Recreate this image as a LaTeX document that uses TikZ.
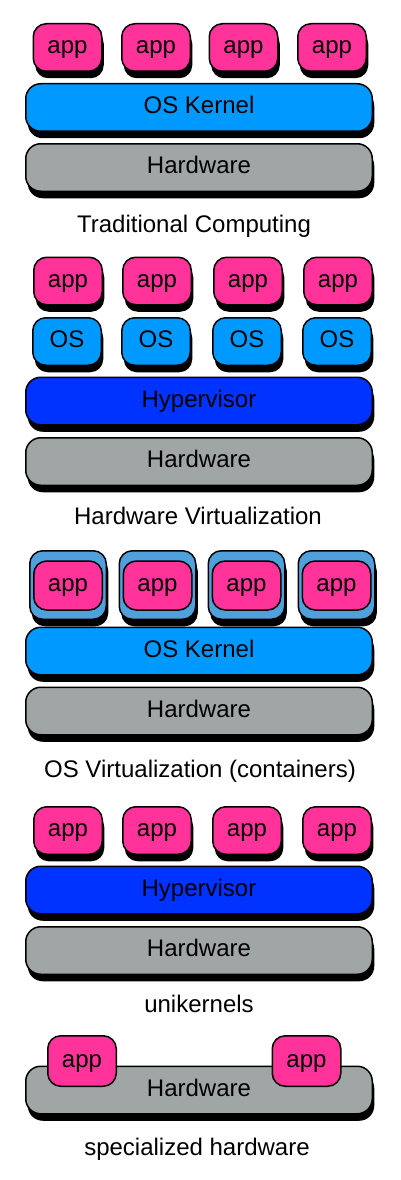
\documentclass[tikz,border=0pt]{standalone}
\usepackage{fontspec}
\setmainfont{Liberation Sans}
\usetikzlibrary{shadows}
\definecolor{apppink}{RGB}{255,51,153}
\definecolor{osblue}{RGB}{0,153,255}
\definecolor{hvblue}{RGB}{0,51,255}
\definecolor{hwgray}{RGB}{160,166,166}
\definecolor{ctblue}{RGB}{80,160,220}
\begin{document}
\begin{tikzpicture}[x=1pt,y=-1pt,font=\fontsize{24}{28}\selectfont,
  box/.style={draw=black, line width=1.5pt, rounded corners=13pt, inner sep=0pt,
    text height=17pt, text depth=5pt},
  shade/.style={drop shadow={shadow xshift=2pt, shadow yshift=-7pt, opacity=1, fill=black}},
  app/.style={box, fill=apppink, minimum width=68.5pt, minimum height=47.5pt},
  os/.style={box, fill=osblue, minimum width=68.5pt, minimum height=47.5pt},
  layer/.style={box, rounded corners=15pt, minimum width=346.5pt, minimum height=47.5pt},
  cont/.style={box, shade, fill=ctblue, minimum width=76.5pt, minimum height=68.5pt},
  caption/.style={anchor=base}]

  \useasboundingbox (0,0) rectangle (400,1180);

  % traditional computing
  \foreach \x [count=\i] in {67.5,156,243.5,332}
    \node[app, shade] (app1-\i) at (\x,47.5) {app};
  \node[layer, shade, fill=osblue] (kernel1) at (199,107.5) {OS Kernel};
  \node[layer, shade, fill=hwgray] (hw1) at (199,167.5) {Hardware};
  \node[caption] (cap1) at (194,232) {Traditional Computing};

  % hardware virtualization
  \foreach \x [count=\i] in {68,157,248,338}
    \node[app, shade] (app2-\i) at (\x,281) {app};
  \foreach \x [count=\i] in {67,156,247,337}
    \node[os, shade] (os2-\i) at (\x,341.5) {OS};
  \node[layer, shade, fill=hvblue] (hyper2) at (199,401) {Hypervisor};
  \node[layer, shade, fill=hwgray] (hw2) at (199,461.5) {Hardware};
  \node[caption] (cap2) at (198,524) {Hardware Virtualization};

  % os virtualization
  \foreach \x [count=\i] in {68,157.5,246.5,336.5} {
    \node[cont] (cont3-\i) at (\x,585) {};
    \node[app, minimum height=49pt] (app3-\i) at (\x,585.5) {app};
  }
  \node[layer, shade, fill=osblue] (kernel3) at (199,651) {OS Kernel};
  \node[layer, shade, fill=hwgray] (hw3) at (199,711) {Hardware};
  \node[caption] (cap3) at (200,777) {OS Virtualization (containers)};

  % unikernels
  \foreach \x [count=\i] in {68,157,247,337}
    \node[app, shade] (app4-\i) at (\x,830.5) {app};
  \node[layer, shade, fill=hvblue] (hyper4) at (199,890) {Hypervisor};
  \node[layer, shade, fill=hwgray] (hw4) at (199,950.5) {Hardware};
  \node[caption] (cap4) at (199,1012) {unikernels};

  % specialized hardware
  \node[layer, shade, fill=hwgray] (hw5) at (199,1090) {Hardware};
  \node[app, minimum height=50.5pt] (app5-1) at (82,1061) {app};
  \node[app, minimum height=50.5pt] (app5-2) at (306.5,1061) {app};
  \node[caption] (cap5) at (197,1155) {specialized hardware};

\end{tikzpicture}
\end{document}
